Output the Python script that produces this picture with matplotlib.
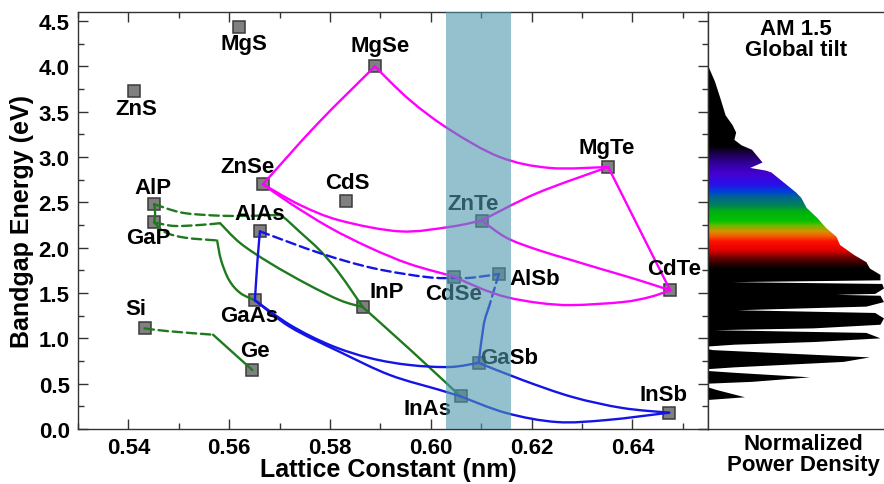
import numpy as np
import matplotlib
matplotlib.use('Agg')
from matplotlib import pyplot as plt
from matplotlib.patches import Polygon, PathPatch
from matplotlib.path import Path
from matplotlib.ticker import MultipleLocator

plt.rcParams['font.family'] = ['Liberation Sans', 'DejaVu Sans']
plt.rcParams['font.weight'] = 'bold'

########
# DATA #
########

# binary compounds: lattice constant (nm), bandgap (eV)
names   = ['MgS', 'ZnS', 'ZnSe', 'AlP', 'GaP', 'AlAs', 'MgSe', 'CdS', 'ZnTe', 'MgTe',
           'Si', 'GaAs', 'Ge', 'InP', 'CdSe', 'AlSb', 'GaSb', 'InAs', 'InSb', 'CdTe']
lattice = [0.5620, 0.5412, 0.5667, 0.5451, 0.5451, 0.5661, 0.5889, 0.5832, 0.6101, 0.6352,
           0.5432, 0.5651, 0.5646, 0.5865, 0.6047, 0.6135, 0.6095, 0.6059, 0.6473, 0.6475]
bandgap = [4.44, 3.73, 2.70, 2.48, 2.28, 2.18, 4.00, 2.52, 2.30, 2.89,
           1.11, 1.42, 0.65, 1.345, 1.68, 1.71, 0.73, 0.36, 0.18, 1.53]

# alloy curves, (lattice, bandgap)
# group IV / phosphides (green)
alp_gap     = [(0.5451, 2.48), (0.5453, 2.38), (0.5451, 2.28)]
alp_inp_ind = [(0.5451, 2.48), (0.5503, 2.39), (0.5556, 2.36), (0.5608, 2.35), (0.5670, 2.355)]
alp_inp_dir = [(0.5670, 2.355), (0.5695, 2.36), (0.5707, 2.34), (0.5741, 2.17), (0.5780, 1.97),
               (0.5814, 1.75), (0.5846, 1.50), (0.5865, 1.345)]
gap_inp_ind = [(0.5451, 2.28), (0.5490, 2.24), (0.5540, 2.25), (0.5582, 2.27)]
gap_inp_dir = [(0.5582, 2.27), (0.5622, 2.05), (0.5681, 1.83), (0.5754, 1.60), (0.5820, 1.42),
               (0.5865, 1.345)]
gap_gaas_ind = [(0.5451, 2.28), (0.5473, 2.17), (0.5513, 2.11), (0.5576, 2.08)]
gap_gaas_dir = [(0.5576, 2.08), (0.5584, 1.86), (0.5600, 1.64), (0.5622, 1.50), (0.5651, 1.42)]
si_ge_ind   = [(0.5432, 1.11), (0.5477, 1.08), (0.5568, 1.04)]
si_ge_dir   = [(0.5568, 1.04), (0.5646, 0.65)]
inp_inas    = [(0.5865, 1.345), (0.5962, 0.86), (0.6059, 0.36)]

# arsenides / antimonides (blue)
alas_gaas   = [(0.5661, 2.18), (0.5656, 1.85), (0.5651, 1.42)]
alas_alsb   = [(0.5661, 2.18), (0.5780, 1.94), (0.5885, 1.775), (0.5992, 1.676), (0.6051, 1.665),
               (0.6083, 1.67), (0.6135, 1.71)]
alsb_gasb_ind = [(0.6135, 1.71), (0.6115, 1.34)]
alsb_gasb_dir = [(0.6115, 1.34), (0.6105, 1.15), (0.6095, 0.73)]
gaas_gasb   = [(0.5651, 1.42), (0.5721, 1.147), (0.5800, 0.926), (0.5879, 0.783), (0.5958, 0.706),
               (0.6038, 0.684), (0.6095, 0.73)]
gaas_inas   = [(0.5651, 1.42), (0.5721, 1.125), (0.5820, 0.849), (0.5919, 0.595), (0.6018, 0.43),
               (0.6059, 0.36)]
gasb_insb   = [(0.6095, 0.73), (0.6182, 0.54), (0.6281, 0.353), (0.6380, 0.232), (0.6473, 0.18)]
inas_insb   = [(0.6059, 0.36), (0.6150, 0.176), (0.6250, 0.077), (0.6349, 0.099), (0.6473, 0.18)]

# II-VI (magenta)
znse_mgse = [(0.5667, 2.70), (0.5774, 3.36), (0.5889, 4.00)]
mgse_mgte = [(0.5889, 4.00), (0.5958, 3.63), (0.6038, 3.30), (0.6137, 3.00), (0.6236, 2.88),
             (0.6352, 2.89)]
znse_znte = [(0.5667, 2.70), (0.5741, 2.47), (0.5820, 2.30), (0.5939, 2.18), (0.6038, 2.23),
             (0.6101, 2.30)]
znte_mgte = [(0.6101, 2.30), (0.6210, 2.60), (0.6352, 2.89)]
znse_cdse = [(0.5667, 2.70), (0.5721, 2.49), (0.5800, 2.22), (0.5879, 2.00), (0.5958, 1.82),
             (0.6047, 1.68)]
cdse_cdte = [(0.6047, 1.68), (0.6097, 1.555), (0.6150, 1.455), (0.6216, 1.39), (0.6281, 1.367),
             (0.6380, 1.40), (0.6434, 1.455), (0.6475, 1.53)]
znte_cdte = [(0.6101, 2.30), (0.6150, 2.11), (0.6210, 1.98), (0.6275, 1.87), (0.6341, 1.76),
             (0.6408, 1.65), (0.6475, 1.53)]
mgte_cdte = [(0.6352, 2.89), (0.6408, 2.27), (0.6475, 1.53)]

# AM 1.5 global tilt spectrum, normalized power vs photon energy (eV)
spec_energy = [4.01, 3.83, 3.65, 3.46, 3.35, 3.27, 3.19, 3.13, 3.08, 2.94, 2.88, 2.85, 2.83,
               2.72, 2.61, 2.55, 2.44, 2.33, 2.22, 2.12, 2.03, 1.92, 1.84, 1.77, 1.70, 1.64,
               1.62, 1.60, 1.55, 1.49, 1.48, 1.47, 1.40, 1.35, 1.31, 1.28, 1.22, 1.15, 1.11,
               1.09, 1.06, 1.00, 0.96, 0.93, 0.91, 0.88, 0.87, 0.79, 0.74, 0.68, 0.66, 0.64,
               0.62, 0.57, 0.52, 0.50, 0.46, 0.43, 0.35, 0.32]
spec_power  = [0.00, 0.04, 0.07, 0.10, 0.14, 0.16, 0.15, 0.19, 0.25, 0.31, 0.24, 0.33, 0.36,
               0.43, 0.50, 0.53, 0.56, 0.62, 0.67, 0.73, 0.75, 0.83, 0.90, 0.92, 0.98, 0.98,
               0.14, 0.99, 1.00, 0.95, 0.73, 0.98, 1.00, 0.90, 0.17, 0.95, 1.00, 0.98, 0.60,
               0.04, 0.90, 0.98, 0.61, 0.15, 0.00, 0.00, 0.03, 0.92, 0.77, 0.15, 0.00, 0.00,
               0.15, 0.58, 0.25, 0.00, 0.00, 0.05, 0.21, 0.00]

###########
# STYLING #
###########

GREEN = '#1f7a1f'
BLUE = '#1414e6'
MAGENTA = '#ff00ff'
DASH = (0, (4, 2))

curves = [
    (alp_gap, GREEN, '-'), (alp_inp_ind, GREEN, DASH), (alp_inp_dir, GREEN, '-'),
    (gap_inp_ind, GREEN, DASH), (gap_inp_dir, GREEN, '-'),
    (gap_gaas_ind, GREEN, DASH), (gap_gaas_dir, GREEN, '-'),
    (si_ge_ind, GREEN, DASH), (si_ge_dir, GREEN, '-'), (inp_inas, GREEN, '-'),
    (alas_gaas, BLUE, '-'), (alas_alsb, BLUE, DASH),
    (alsb_gasb_ind, BLUE, DASH), (alsb_gasb_dir, BLUE, '-'),
    (gaas_gasb, BLUE, '-'), (gaas_inas, BLUE, '-'), (gasb_insb, BLUE, '-'), (inas_insb, BLUE, '-'),
    (znse_mgse, MAGENTA, '-'), (mgse_mgte, MAGENTA, '-'), (znse_znte, MAGENTA, '-'),
    (znte_mgte, MAGENTA, '-'), (znse_cdse, MAGENTA, '-'), (cdse_cdte, MAGENTA, '-'),
    (znte_cdte, MAGENTA, '-'), (mgte_cdte, MAGENTA, '-'),
]

# label offsets from marker, in points
label_offset = {
    'MgS': (3, -12), 'ZnS': (1, -13), 'ZnSe': (-11, 13), 'AlP': (-1, 12), 'GaP': (-4, -11),
    'AlAs': (0, 13), 'MgSe': (4, 15), 'CdS': (1, 13), 'ZnTe': (-6, 12), 'MgTe': (-1, 14),
    'Si': (-6, 14), 'GaAs': (-4, -11), 'Ge': (2, 14), 'InP': (17, 11), 'CdSe': (-1, -12),
    'AlSb': (26, -3), 'GaSb': (22, 4), 'InAs': (-24, -9), 'InSb': (-4, 13), 'CdTe': (3, 16),
}

# colours of the visible part of the spectrum, by photon energy
spec_colors = [(1.77, '#000000'), (1.88, '#600000'), (1.97, '#e00000'), (2.07, '#ff1000'),
               (2.13, '#f06000'), (2.18, '#d89000'), (2.24, '#70b800'), (2.30, '#00c000'),
               (2.40, '#00b010'), (2.47, '#00805a'), (2.55, '#006a88'), (2.62, '#0040d8'),
               (2.70, '#2a10e8'), (2.82, '#4400d0'), (2.95, '#2e0090'), (3.05, '#180040'),
               (3.12, '#000000')]


def smooth_path(pts):
    # cubic Bezier path running through the read points (Catmull-Rom tangents)
    p = np.array(pts, dtype=float)
    if len(p) < 3:
        return Path(p)
    ext = np.vstack([p[0], p, p[-1]])
    verts = [p[0]]
    codes = [Path.MOVETO]
    for i in range(len(p) - 1):
        p0, p1, p2, p3 = ext[i], ext[i + 1], ext[i + 2], ext[i + 3]
        verts += [p1 + (p2 - p0) / 6., p2 - (p3 - p1) / 6., p2]
        codes += [Path.CURVE4] * 3
    return Path(verts, codes)


#########
# PLOT  #
#########

W, H = 884., 485.
fig = plt.figure(figsize=(W / 100, H / 100), dpi=100)
bottom = (H - 430) / H
height = 417 / H
ax = fig.add_axes([78 / W, bottom, 630 / W, height])

for pts, col, ls in curves:
    ax.add_patch(PathPatch(smooth_path(pts), facecolor='none', edgecolor=col, ls=ls,
                           lw=1.7, zorder=3, capstyle='round', joinstyle='round'))

ax.plot(lattice, bandgap, 's', ms=8.5, mfc='#808080', mec='#3a3a3a', mew=1.1, zorder=2)

for n, x, y in zip(names, lattice, bandgap):
    ax.annotate(n, (x, y), xytext=label_offset[n], textcoords='offset points',
                ha='center', va='center', fontsize=16, fontweight='bold', zorder=5)

ax.axvspan(0.603, 0.616, color='#4f98ae', alpha=0.6, lw=0, zorder=10)

ax.set_xlim(0.53, 0.655)
ax.set_ylim(0, 4.6)
ax.xaxis.set_major_locator(MultipleLocator(0.02))
ax.xaxis.set_minor_locator(MultipleLocator(0.01))
ax.yaxis.set_major_locator(MultipleLocator(0.5))
ax.yaxis.set_minor_locator(MultipleLocator(0.25))
ax.tick_params(which='both', direction='in', top=True, right=True, width=1, colors='#333333',
               labelcolor='black', labelsize=16)
ax.tick_params(which='major', length=7, pad=6)
ax.tick_params(which='minor', length=4)
for s in ax.spines.values():
    s.set_color('#333333')
    s.set_linewidth(1)

fig.text(388 / W, 1 - 470 / H, 'Lattice Constant (nm)', ha='center', va='center',
         fontsize=18, fontweight='bold')
fig.text(22 / W, 1 - 222 / H, 'Bandgap Energy (eV)', ha='center', va='center',
         rotation=90, fontsize=18, fontweight='bold')

# spectrum panel
ax2 = fig.add_axes([708 / W, bottom, (W - 708) / W, height])
energies = np.linspace(0, 4.6, 921)
stop_e = [e for e, c in spec_colors]
stop_rgb = np.array([matplotlib.colors.to_rgb(c) for e, c in spec_colors])
rgb = np.stack([np.interp(energies, stop_e, stop_rgb[:, i], left=0, right=0) for i in range(3)],
               axis=-1)[:, None, :]
im = ax2.imshow(rgb, extent=[0, 1, 0, 4.6], origin='lower', aspect='auto',
                interpolation='bilinear')
outline = np.column_stack([[0] + spec_power + [0],
                           [spec_energy[0]] + spec_energy + [spec_energy[-1]]])
poly = Polygon(outline, closed=True, transform=ax2.transData, facecolor='none', edgecolor='none')
ax2.add_patch(poly)
im.set_clip_path(poly)
ax2.set_xlim(0, 1)
ax2.set_ylim(0, 4.6)
ax2.set_xticks([])
ax2.set_yticks([])
ax2.spines['right'].set_visible(False)
for s in ['left', 'top', 'bottom']:
    ax2.spines[s].set_color('#333333')
    ax2.spines[s].set_linewidth(1)

ax2.text(0.5, 1 - 27 / 417, 'AM 1.5\nGlobal tilt', transform=ax2.transAxes, ha='center',
         va='center', fontsize=16, fontweight='bold', linespacing=1.0)
fig.text(803 / W, 1 - 455 / H, 'Normalized\nPower Density', ha='center', va='center',
         fontsize=16, fontweight='bold', linespacing=1.0)

plt.savefig('out.png', dpi=100, facecolor='white')
plt.close()
